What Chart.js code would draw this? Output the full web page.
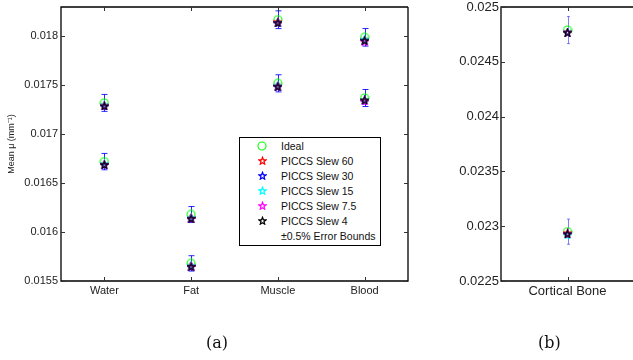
<!DOCTYPE html>
<html><head><meta charset="utf-8">
<script src="https://cdn.jsdelivr.net/npm/chart.js@4/dist/chart.umd.min.js"></script>
<style>
html,body{margin:0;padding:0;background:#fff;overflow:hidden;width:633px;height:360px;}
#wrap{position:relative;width:633px;height:360px;overflow:hidden;}
#ca{position:absolute;left:0;top:0;}
#cb{position:absolute;left:440px;top:0;}
.cap{position:absolute;top:333px;font-family:"DejaVu Serif","Liberation Serif",serif;font-size:16px;color:#111;}
#legend{position:absolute;left:239px;top:137px;width:140px;height:107px;border:1px solid #000;background:#fff;font-family:"Liberation Sans",Arial,sans-serif;font-size:10.5px;color:#111;}
.row{position:absolute;left:0;width:140px;height:15px;line-height:15px;}
.row canvas{position:absolute;left:17px;top:2px;}
.row span{position:absolute;left:41px;white-space:nowrap;}
</style></head>
<body>
<div id="wrap">
<canvas id="ca" width="420" height="360"></canvas>
<canvas id="cb" width="200" height="360"></canvas>
<div class="cap" style="left:206px;">(a)</div>
<div class="cap" style="left:538px;">(b)</div>
<div id="legend"></div>
</div>
<script>
// ---------- data ----------
const categoriesA = ['Water', 'Fat', 'Muscle', 'Blood'];
const categoriesB = ['Cortical Bone'];
const yTicksA = [0.0155, 0.016, 0.0165, 0.017, 0.0175, 0.018];
const yTickLabelsA = ['0.0155', '0.016', '0.0165', '0.017', '0.0175', '0.018'];
const yTicksB = [0.0225, 0.023, 0.0235, 0.024, 0.0245, 0.025];
const yTickLabelsB = ['0.0225', '0.023', '0.0235', '0.024', '0.0245', '0.025'];
const seriesLabels = ['Ideal', 'PICCS Slew 60', 'PICCS Slew 30', 'PICCS Slew 15', 'PICCS Slew 7.5', 'PICCS Slew 4'];
const errorLabel = '\u00B10.5% Error Bounds';
const errorFraction = 0.005;

// upper and lower material of each category (panel a)
const idealHighA  = [0.01732, 0.01618, 0.01817, 0.01799];
const idealLowA   = [0.01672, 0.01568, 0.01752, 0.01737];
const slew60HighA = [0.01730, 0.01615, 0.01815, 0.01797];
const slew60LowA  = [0.01670, 0.01566, 0.01750, 0.01735];
const slew30HighA = [0.01729, 0.01614, 0.01814, 0.01796];
const slew30LowA  = [0.01669, 0.01565, 0.01749, 0.01734];
const slew15HighA = [0.01730, 0.01615, 0.01814, 0.01797];
const slew15LowA  = [0.01670, 0.01566, 0.01750, 0.01735];
const slew7HighA  = [0.01729, 0.01614, 0.01814, 0.01795];
const slew7LowA   = [0.01669, 0.01565, 0.01749, 0.01734];
const slew4HighA  = [0.01729, 0.01614, 0.01814, 0.01796];
const slew4LowA   = [0.01669, 0.01565, 0.01749, 0.01735];
// panel b: [upper, lower]
const idealB  = [0.02479, 0.02295];
const slew60B = [0.02477, 0.02294];
const slew30B = [0.02477, 0.02293];
const slew15B = [0.02477, 0.02292];
const slew7B  = [0.02477, 0.02293];
const slew4B  = [0.02477, 0.02293];

// ---------- styles ----------
const seriesColors = ['#00ff00', '#ff0000', '#0000ff', '#00ffff', '#ff00ff', '#000000'];

function makeStar(color, size) {
  const c = document.createElement('canvas');
  c.width = size; c.height = size;
  const g = c.getContext('2d');
  const cx = size / 2, cy = size / 2 + 0.6;
  const r = size / 2 - 0.7, ri = r * 0.42;
  g.beginPath();
  for (let k = 0; k < 10; k++) {
    const a = -Math.PI / 2 + k * Math.PI / 5;
    const rr = k % 2 ? ri : r;
    const px = cx + rr * Math.cos(a), py = cy + rr * Math.sin(a);
    if (k === 0) g.moveTo(px, py); else g.lineTo(px, py);
  }
  g.closePath();
  g.strokeStyle = color; g.lineWidth = 1.2; g.stroke();
  return c;
}
function makeCircle(color, size) {
  const c = document.createElement('canvas');
  c.width = size; c.height = size;
  const g = c.getContext('2d');
  g.beginPath(); g.arc(size / 2, size / 2, size / 2 - 1, 0, Math.PI * 2);
  g.strokeStyle = color; g.lineWidth = 1.1; g.stroke();
  return c;
}

const highA = [idealHighA, slew60HighA, slew30HighA, slew15HighA, slew7HighA, slew4HighA];
const lowA = [idealLowA, slew60LowA, slew30LowA, slew15LowA, slew7LowA, slew4LowA];
const valsB = [idealB, slew60B, slew30B, slew15B, slew7B, slew4B];

function markerFor(i) {
  return i === 0 ? makeCircle(seriesColors[0], 10) : makeStar(seriesColors[i], 9);
}

function datasetsA() {
  return seriesLabels.map((lab, i) => ({
    label: lab,
    data: categoriesA.map((c, j) => ({ x: c, y: highA[i][j] }))
      .concat(categoriesA.map((c, j) => ({ x: c, y: lowA[i][j] }))),
    pointStyle: markerFor(i),
    pointRadius: 5,
    order: 10 - i
  }));
}
function datasetsB() {
  return seriesLabels.map((lab, i) => ({
    label: lab,
    data: valsB[i].map(v => ({ x: categoriesB[0], y: v })),
    pointStyle: markerFor(i),
    pointRadius: 5,
    order: 10 - i
  }));
}

Chart.defaults.font.family = '"Liberation Sans", Arial, sans-serif';
Chart.defaults.color = '#222';

function errPlugin(capHalf, color) {
  return {
    id: 'errbars',
    beforeDatasetsDraw(chart) {
      const meta = chart.getDatasetMeta(0);
      const ys = chart.scales.y;
      const ctx = chart.ctx;
      ctx.save();
      ctx.strokeStyle = color; ctx.lineWidth = 1;
      chart.data.datasets[0].data.forEach((d, k) => {
        const el = meta.data[k];
        const x = Math.round(el.x) + 0.5;
        const yt = ys.getPixelForValue(d.y * (1 + errorFraction));
        const yb = ys.getPixelForValue(d.y * (1 - errorFraction));
        ctx.beginPath();
        ctx.moveTo(x, yt); ctx.lineTo(x, yb);
        ctx.moveTo(x - capHalf, yt); ctx.lineTo(x + capHalf, yt);
        ctx.moveTo(x - capHalf, yb); ctx.lineTo(x + capHalf, yb);
        ctx.stroke();
      });
      ctx.restore();
    }
  };
}
function framePlugin(yTicks, drawRight) {
  return {
    id: 'frame',
    afterDraw(chart) {
      const a = chart.chartArea, ctx = chart.ctx;
      const xs = chart.scales.x, ys = chart.scales.y;
      const right = drawRight ? a.right : chart.width;
      ctx.save();
      ctx.strokeStyle = '#000'; ctx.lineWidth = 1.3;
      ctx.beginPath();
      ctx.moveTo(right, a.top); ctx.lineTo(a.left, a.top); ctx.lineTo(a.left, a.bottom); ctx.lineTo(right, a.bottom);
      if (drawRight) { ctx.lineTo(a.right, a.top); }
      ctx.stroke();
      ctx.lineWidth = 1; ctx.strokeStyle = '#333';
      ctx.beginPath();
      const tl = 4;
      yTicks.forEach(v => {
        const y = Math.round(ys.getPixelForValue(v)) + 0.5;
        ctx.moveTo(a.left, y); ctx.lineTo(a.left + tl, y);
        if (drawRight) { ctx.moveTo(a.right, y); ctx.lineTo(a.right - tl, y); }
      });
      xs.ticks.forEach((t, i) => {
        const x = Math.round(xs.getPixelForTick(i)) + 0.5;
        ctx.moveTo(x, a.bottom); ctx.lineTo(x, a.bottom - tl);
        ctx.moveTo(x, a.top); ctx.lineTo(x, a.top + tl);
      });
      ctx.stroke();
      ctx.restore();
    }
  };
}

function makeOptions(cats, yMin, yMax, yTicks, yLabels, tickFont, withTitle, yWidth, padRight, tickPadY) {
  return {
    responsive: false,
    animation: false,
    layout: { padding: { left: 0, top: 7, right: padRight, bottom: 0 } },
    plugins: { legend: { display: false }, tooltip: { enabled: false } },
    scales: {
      x: {
        type: 'category', labels: cats, offset: true,
        grid: { display: true, drawOnChartArea: false, drawTicks: false },
        border: { display: false },
        ticks: { padding: 3, font: { size: tickFont }, color: '#222', maxRotation: 0 },
        afterFit(s) { s.height = 79; s.paddingLeft = 0; s.paddingRight = 0; }
      },
      y: {
        type: 'linear', min: yMin, max: yMax,
        grid: { display: true, drawOnChartArea: false, drawTicks: false },
        border: { display: false },
        afterBuildTicks(s) { s.ticks = yTicks.map(v => ({ value: v })); },
        ticks: { padding: tickPadY, font: { size: tickFont }, color: '#222',
                 callback: (v, i) => yLabels[i] },
        title: withTitle ? { display: true, text: 'Mean \u03BC (mm\u207B\u00B9)', font: { size: 9 }, color: '#222', padding: { top: 6, bottom: 0 } } : { display: false },
        afterFit(s) { s.width = yWidth; s.paddingTop = 0; s.paddingBottom = 0; }
      }
    }
  };
}

new Chart(document.getElementById('ca'), {
  type: 'scatter',
  data: { datasets: datasetsA() },
  options: makeOptions(categoriesA, 0.0155, 0.0183, yTicksA, yTickLabelsA, 11, true, 61, 12, 3),
  plugins: [errPlugin(3, 'rgba(0,0,255,0.85)'), framePlugin(yTicksA, true)]
});
new Chart(document.getElementById('cb'), {
  type: 'scatter',
  data: { datasets: datasetsB() },
  options: makeOptions(categoriesB, 0.0225, 0.025, yTicksB, yTickLabelsB, 13, false, 61, 3, 2),
  plugins: [errPlugin(1.5, 'rgba(60,60,255,0.65)'), framePlugin(yTicksB, false)]
});

// ---------- legend ----------
const leg = document.getElementById('legend');
seriesLabels.concat([errorLabel]).forEach((lab, i) => {
  const row = document.createElement('div');
  row.className = 'row';
  row.style.top = (1 + 15 * i) + 'px';
  if (i < seriesLabels.length) {
    const m = markerFor(i);
    m.style.left = (i === 0 ? 17 : 17.5) + 'px';
    row.appendChild(m);
  }
  const s = document.createElement('span');
  s.textContent = lab;
  row.appendChild(s);
  leg.appendChild(row);
});
</script>
</body></html>
